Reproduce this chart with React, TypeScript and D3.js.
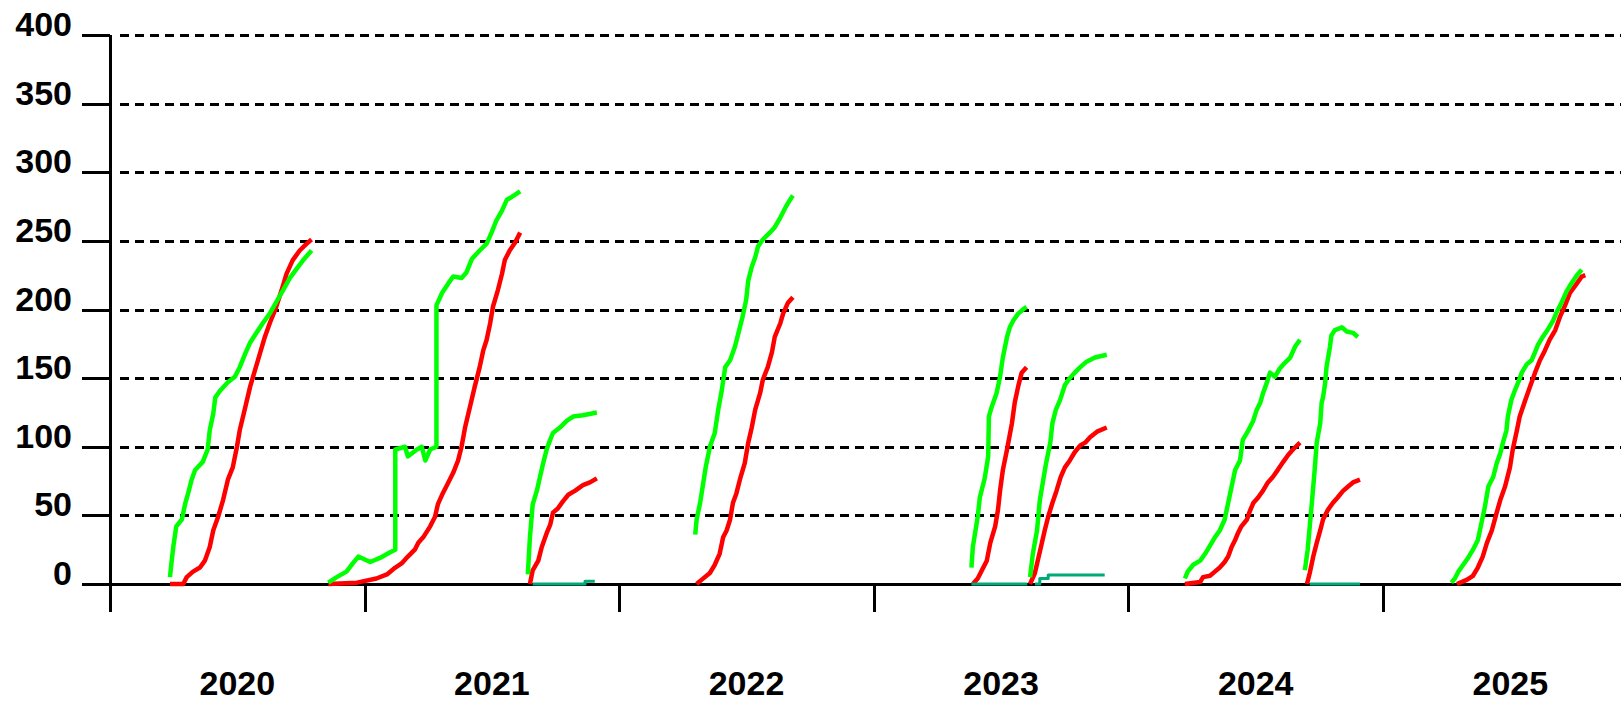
import { useEffect, useRef } from "react";
import * as d3 from "d3";

// Cumulative season curves. x = days since 2020-01-01, y = running total.
type Pt = [number, number];

const YEARS = ["2020", "2021", "2022", "2023", "2024", "2025"];
const Y_TICKS = [0, 50, 100, 150, 200, 250, 300, 350, 400];

const green2020: Pt[] = [[86,5],[88,15],[91,28],[95,42],[103,47],[108,59],[112,66],[117,76],[122,83],[133,89],[140,98],[143,112],[148,124],[151,136],[158,141],[169,147],[179,151],[186,158],[194,168],[201,176],[210,183],[219,190],[229,197],[239,206],[248,214],[258,223],[268,230],[277,236],[289,243]];
const red2020: Pt[] = [[86,0],[105,0],[110,5],[119,9],[129,12],[136,17],[143,27],[148,39],[155,49],[162,61],[169,76],[176,85],[182,100],[186,112],[194,129],[201,144],[208,156],[215,168],[222,180],[229,190],[237,200],[246,214],[253,226],[262,236],[272,243],[282,248],[289,251]];

const green2021a: Pt[] = [[313,1],[325,5],[339,9],[348,15],[356,20],[373,16],[387,19],[401,23],[409,25],[409,98],[423,100],[427,93],[440,98],[447,100],[452,90],[459,98],[468,100],[468,203],[476,212],[485,219],[492,224],[504,223],[511,227],[519,237],[530,243],[540,248],[547,256],[554,265],[562,272],[569,280],[576,282],[588,286]];
const red2021a: Pt[] = [[313,0],[354,1],[382,4],[397,7],[409,12],[418,15],[427,20],[437,25],[442,30],[449,34],[459,42],[466,49],[470,58],[477,66],[485,74],[492,81],[499,90],[504,100],[509,114],[516,129],[523,144],[530,158],[535,170],[540,178],[545,190],[549,202],[556,214],[562,226],[566,236],[573,243],[581,249],[588,256]];
const green2021b: Pt[] = [[599,7],[602,34],[606,58],[612,68],[616,77],[621,88],[626,98],[631,105],[635,110],[645,114],[655,119],[664,122],[678,123],[698,125]];
const red2021b: Pt[] = [[602,0],[606,10],[614,17],[619,27],[626,37],[631,43],[635,52],[642,55],[649,60],[657,65],[667,68],[678,72],[688,74],[698,77]];
const teal2021: Pt[] = [[606,0],[681,0],[681,2],[695,2]];

const green2022: Pt[] = [[839,36],[841,47],[846,59],[850,72],[854,85],[860,100],[867,110],[872,127],[877,141],[882,158],[889,163],[896,173],[900,181],[907,195],[912,207],[915,221],[920,231],[925,238],[929,246],[936,251],[946,256],[953,260],[961,267],[968,274],[975,280],[979,283]];
const red2022: Pt[] = [[841,0],[848,3],[860,8],[867,14],[874,22],[879,34],[884,39],[889,47],[893,59],[898,66],[903,76],[910,88],[915,103],[920,114],[925,127],[932,139],[936,149],[943,158],[949,169],[953,180],[961,190],[965,197],[972,205],[979,209]];

const green2023a: Pt[] = [[1235,12],[1237,27],[1244,49],[1247,63],[1254,77],[1259,93],[1260,122],[1264,129],[1271,139],[1276,151],[1280,165],[1286,180],[1290,187],[1295,192],[1302,197],[1309,200],[1314,202]];
const red2023a: Pt[] = [[1237,0],[1244,4],[1250,10],[1257,17],[1262,30],[1269,42],[1273,54],[1276,68],[1280,83],[1286,98],[1293,117],[1297,132],[1302,144],[1307,154],[1314,158]];
const teal2023a: Pt[] = [[1235,0],[1315,0]];
const green2023b: Pt[] = [[1319,5],[1323,22],[1329,39],[1333,61],[1338,76],[1342,88],[1348,103],[1351,117],[1356,127],[1362,134],[1369,145],[1376,150],[1383,154],[1391,158],[1400,162],[1412,165],[1429,167]];
const red2023b: Pt[] = [[1319,0],[1326,8],[1330,17],[1336,30],[1340,39],[1345,49],[1351,59],[1357,68],[1363,78],[1369,85],[1376,90],[1383,96],[1391,101],[1398,103],[1405,107],[1415,111],[1429,114]];
const teal2023b: Pt[] = [[1326,0],[1333,0],[1333,4],[1345,4],[1345,6.5],[1426,6.5]];

const green2024a: Pt[] = [[1541,4],[1545,9],[1553,14],[1563,17],[1570,22],[1577,28],[1584,34],[1591,39],[1598,47],[1603,59],[1608,71],[1613,83],[1620,90],[1624,105],[1631,111],[1639,119],[1644,127],[1649,132],[1653,139],[1658,146],[1663,154],[1670,151],[1677,157],[1684,161],[1692,165],[1699,173],[1706,178]];
const red2024a: Pt[] = [[1541,0],[1563,1.5],[1567,5],[1577,6],[1584,9],[1591,12],[1598,16],[1603,20],[1608,27],[1613,32],[1617,37],[1622,42],[1630,47],[1634,53],[1639,59],[1646,63],[1653,68],[1660,74],[1667,78],[1674,83],[1682,89],[1689,94],[1696,98],[1706,103]];
const green2024b: Pt[] = [[1713,10],[1717,25],[1720,42],[1723,59],[1727,83],[1730,103],[1735,117],[1737,132],[1739,136],[1742,146],[1744,158],[1749,173],[1751,181],[1756,185],[1766,187],[1773,184],[1782,183],[1789,180]];
const red2024b: Pt[] = [[1716,0],[1720,8],[1725,20],[1730,30],[1735,39],[1739,47],[1746,54],[1753,59],[1760,63],[1768,68],[1775,71],[1782,74],[1792,76]];
const teal2024: Pt[] = [[1720,0],[1792,0]];

const green2025: Pt[] = [[1923,1],[1928,4],[1933,9],[1940,14],[1947,19],[1954,25],[1961,32],[1966,44],[1971,56],[1976,71],[1983,78],[1988,88],[1993,95],[1997,103],[2002,112],[2004,122],[2009,134],[2014,141],[2019,147],[2024,154],[2031,160],[2038,163],[2043,169],[2047,174],[2054,180],[2062,186],[2069,192],[2074,198],[2081,205],[2088,213],[2095,219],[2103,225],[2110,229]];
const red2025: Pt[] = [[1931,0],[1945,3],[1954,6],[1961,12],[1968,20],[1974,30],[1981,39],[1988,52],[1993,61],[2000,71],[2007,85],[2011,98],[2017,112],[2021,122],[2029,134],[2036,144],[2043,154],[2050,163],[2057,170],[2064,178],[2072,185],[2079,195],[2086,203],[2093,212],[2103,219],[2110,224],[2115,225]];

const RED = "#ff0000";
const GREEN = "#00ff00";
const TEAL = "#00aa78";

const SERIES = [
  ...[red2020, red2021a, red2021b, red2022, red2023a, red2023b, red2024a, red2024b, red2025].map((pts) => ({ pts, color: RED, w: 4.5 })),
  ...[green2020, green2021a, green2021b, green2022, green2023a, green2023b, green2024a, green2024b, green2025].map((pts) => ({ pts, color: GREEN, w: 4.5 })),
  ...[teal2021, teal2023a, teal2023b, teal2024].map((pts) => ({ pts, color: TEAL, w: 3 })),
];

const W = 1621;
const H = 704;
const DAYS_PER_YEAR = 365;
const FONT = "'Liberation Sans', Arial, sans-serif";

export default function App() {
  const svgRef = useRef<SVGSVGElement>(null);

  useEffect(() => {
    const svg = d3.select(svgRef.current);
    svg.selectAll("*").remove();

    const x = d3.scaleLinear().domain([0, DAYS_PER_YEAR * YEARS.length]).range([110, 110 + 254.6 * YEARS.length]);
    const y = d3.scaleLinear().domain([0, 400]).range([584, 35]);
    const axisX = x(0);
    const baseY = y(0);

    svg.append("rect").attr("width", W).attr("height", H).attr("fill", "#fff");

    // dashed grid
    svg
      .append("g")
      .selectAll("line")
      .data(Y_TICKS.filter((v) => v > 0))
      .join("line")
      .attr("x1", axisX + 10)
      .attr("x2", W)
      .attr("y1", (d) => Math.round(y(d)))
      .attr("y2", (d) => Math.round(y(d)))
      .attr("stroke", "#000")
      .attr("stroke-width", 3)
      .attr("stroke-dasharray", "9 6")
      .attr("shape-rendering", "crispEdges");

    const axes = svg.append("g").attr("stroke", "#000").attr("stroke-width", 3).attr("shape-rendering", "crispEdges");
    axes.append("line").attr("x1", axisX).attr("x2", axisX).attr("y1", y(400)).attr("y2", baseY + 28);
    axes.append("line").attr("x1", axisX - 28).attr("x2", W).attr("y1", baseY).attr("y2", baseY);
    axes
      .selectAll("line.yt")
      .data(Y_TICKS)
      .join("line")
      .attr("class", "yt")
      .attr("x1", axisX - 28)
      .attr("x2", axisX)
      .attr("y1", (d) => Math.round(y(d)))
      .attr("y2", (d) => Math.round(y(d)));
    axes
      .selectAll("line.xt")
      .data(YEARS.slice(1))
      .join("line")
      .attr("class", "xt")
      .attr("x1", (_, i) => Math.round(x((i + 1) * DAYS_PER_YEAR)))
      .attr("x2", (_, i) => Math.round(x((i + 1) * DAYS_PER_YEAR)))
      .attr("y1", baseY)
      .attr("y2", baseY + 28);

    svg
      .append("g")
      .selectAll("text")
      .data(Y_TICKS)
      .join("text")
      .attr("x", 72)
      .attr("y", (d) => y(d) + 1)
      .attr("text-anchor", "end")
      .attr("font-family", FONT)
      .attr("font-weight", "bold")
      .attr("font-size", 34)
      .text((d) => d);

    svg
      .append("g")
      .selectAll("text")
      .data(YEARS)
      .join("text")
      .attr("x", (_, i) => x((i + 0.5) * DAYS_PER_YEAR))
      .attr("y", 695)
      .attr("text-anchor", "middle")
      .attr("font-family", FONT)
      .attr("font-weight", "bold")
      .attr("font-size", 34)
      .text((d) => d);

    const line = d3
      .line<Pt>()
      .x((d) => x(d[0]))
      .y((d) => y(d[1]));

    svg
      .append("g")
      .selectAll("path")
      .data(SERIES)
      .join("path")
      .attr("d", (s) => line(s.pts))
      .attr("fill", "none")
      .attr("stroke", (s) => s.color)
      .attr("stroke-width", (s) => s.w)
      .attr("stroke-linejoin", "round");
  }, []);

  return (
    <svg
      ref={svgRef}
      width={W}
      height={H}
      viewBox={`0 0 ${W} ${H}`}
      style={{ position: "absolute", left: 0, top: 0, display: "block" }}
    />
  );
}
